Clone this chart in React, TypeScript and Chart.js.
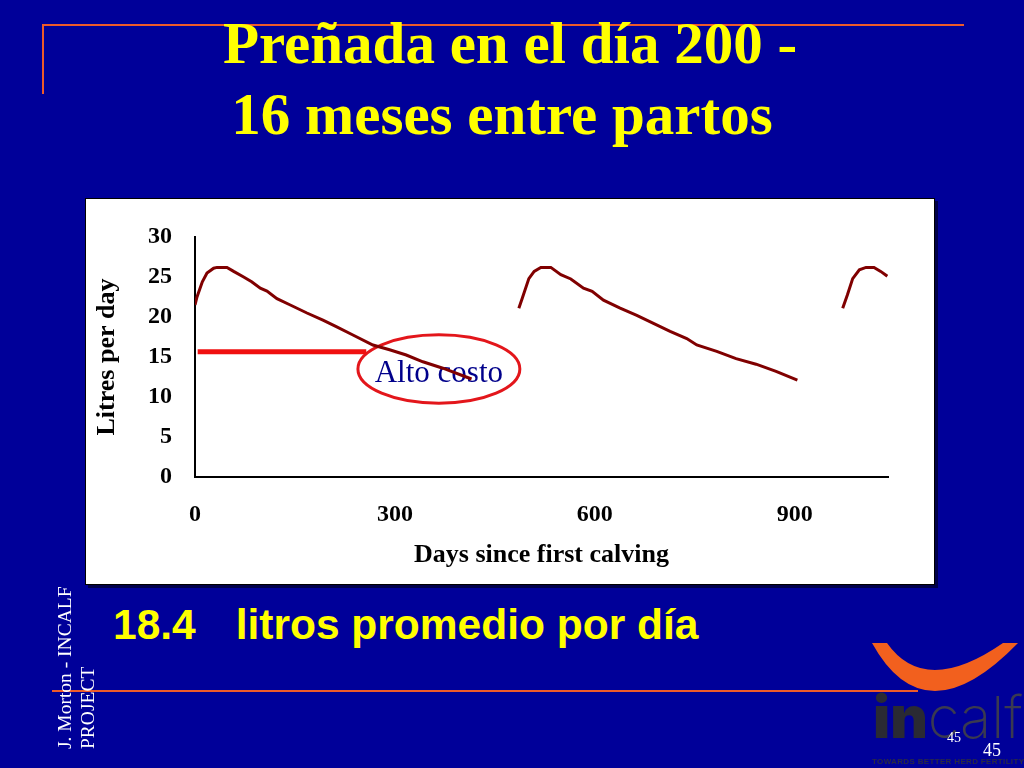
import React, { useEffect, useRef } from "react";
import { Chart, registerables } from "chart.js";

Chart.register(...registerables);

// ---- Data ----
const lact1Days = [0, 3, 11, 18, 28, 33, 48, 58, 73, 85, 98, 108, 123, 143, 168, 192, 212, 237, 267, 292, 317, 342, 372, 407, 415];
const lact1Litres = [21.5, 22.5, 24.4, 25.5, 26.1, 26.2, 26.2, 25.7, 25.0, 24.4, 23.6, 23.25, 22.3, 21.5, 20.5, 19.6, 18.8, 17.75, 16.5, 15.9, 15.25, 14.4, 13.6, 12.5, 12.25];

const lact2Days = [486, 491, 501, 509, 519, 534, 549, 564, 583, 596, 613, 638, 663, 688, 713, 738, 753, 783, 812, 842, 872, 904];
const lact2Litres = [21.1, 22.3, 24.8, 25.7, 26.2, 26.2, 25.3, 24.75, 23.6, 23.2, 22.1, 21.1, 20.2, 19.2, 18.2, 17.3, 16.5, 15.7, 14.8, 14.1, 13.2, 12.1];

const lact3Days = [972, 979, 987, 997, 1007, 1019, 1029, 1039];
const lact3Litres = [21.1, 22.75, 24.8, 25.9, 26.2, 26.2, 25.7, 25.1];

const refLineDays = [4, 257];
const refLineLitres = [15.66, 15.66];

const xTickValues = [0, 300, 600, 900];
const xMax = 1040;
const yTickValues = [0, 5, 10, 15, 20, 25, 30];

const annotationLabel = "Alto costo";
const ellipseCenterDay = 366;
const ellipseCenterLitres = 13.5;
const ellipseRadiusDays = 121.5;
const ellipseRadiusLitres = 4.27;

const xTitle = "Days since first calving";
const yTitle = "Litres per day";

const SERIF = '"Liberation Serif", "Times New Roman", serif';
const SANS = '"Liberation Sans", Arial, sans-serif';

const toPoints = (xs: number[], ys: number[]) => xs.map((x, i) => ({ x, y: ys[i] }));

const altoCostoPlugin = {
  id: "altoCosto",
  beforeDatasetsDraw(chart: any) {
    const { ctx, scales } = chart;
    const x = scales.x;
    const y = scales.y;
    const cx = x.getPixelForValue(ellipseCenterDay);
    const cy = y.getPixelForValue(ellipseCenterLitres);
    const rx = x.getPixelForValue(ellipseCenterDay + ellipseRadiusDays) - cx;
    const ry = y.getPixelForValue(ellipseCenterLitres - ellipseRadiusLitres) - cy;
    ctx.save();
    ctx.fillStyle = "#00008B";
    ctx.font = `31px ${SERIF}`;
    ctx.textAlign = "center";
    ctx.textBaseline = "alphabetic";
    ctx.fillText(annotationLabel, cx, cy + 12.5);
    ctx.beginPath();
    ctx.ellipse(cx, cy, rx, ry, 0, 0, Math.PI * 2);
    ctx.strokeStyle = "#E3161B";
    ctx.lineWidth = 3;
    ctx.stroke();
    ctx.restore();
  },
};

function MilkChart() {
  const ref = useRef<HTMLCanvasElement | null>(null);
  useEffect(() => {
    if (!ref.current) return;
    const curve = {
      borderColor: "#800000",
      borderWidth: 3,
      pointRadius: 0,
      tension: 0,
      fill: false,
    };
    const chart = new Chart(ref.current, {
      type: "line",
      data: {
        datasets: [
          { ...curve, label: "Lactation 1", data: toPoints(lact1Days, lact1Litres) },
          { ...curve, label: "Lactation 2", data: toPoints(lact2Days, lact2Litres) },
          { ...curve, label: "Lactation 3", data: toPoints(lact3Days, lact3Litres) },
          {
            label: "Reference",
            data: toPoints(refLineDays, refLineLitres),
            borderColor: "#F01010",
            borderWidth: 5,
            pointRadius: 0,
            fill: false,
          },
        ],
      },
      options: {
        responsive: false,
        animation: false,
        devicePixelRatio: 1,
        layout: { padding: { left: 0, right: 46, top: 38, bottom: 0 } },
        plugins: {
          legend: { display: false },
          tooltip: { enabled: false },
        },
        scales: {
          x: {
            type: "linear",
            min: 0,
            max: xMax,
            afterBuildTicks: (s: any) => {
              s.ticks = xTickValues.map((v) => ({ value: v }));
            },
            afterFit: (s: any) => {
              s.height = 107;
            },
            grid: { display: false, drawTicks: false },
            border: { display: true, color: "#000", width: 2 },
            ticks: {
              color: "#000",
              font: { family: SERIF, size: 24, weight: "bold" },
              padding: 23,
              maxRotation: 0,
            },
            title: {
              display: true,
              text: xTitle,
              color: "#000",
              font: { family: SERIF, size: 26, weight: "bold" },
              padding: { top: 0, bottom: 13 },
            },
          },
          y: {
            type: "linear",
            min: 0,
            max: 30,
            afterBuildTicks: (s: any) => {
              s.ticks = yTickValues.map((v) => ({ value: v }));
            },
            afterFit: (s: any) => {
              s.width = 109;
            },
            grid: { display: false, drawTicks: false },
            border: { display: true, color: "#000", width: 2 },
            ticks: {
              color: "#000",
              font: { family: SERIF, size: 24, weight: "bold" },
              padding: 23,
            },
            title: {
              display: true,
              text: yTitle,
              color: "#000",
              font: { family: SERIF, size: 26, weight: "bold" },
              padding: { top: 6, bottom: 0 },
            },
          },
        },
      },
      plugins: [altoCostoPlugin],
    } as any);
    return () => chart.destroy();
  }, []);
  return (
    <canvas
      ref={ref}
      width={848}
      height={385}
      style={{ position: "absolute", left: 0, top: 0, width: 848, height: 385 }}
    />
  );
}

export default function App() {
  const orange = "#EE5A2A";
  const titleStyle: React.CSSProperties = {
    position: "absolute",
    width: 1024,
    textAlign: "center",
    color: "#FFFF00",
    fontFamily: SERIF,
    fontWeight: "bold",
    fontSize: 59,
    lineHeight: "59px",
    whiteSpace: "nowrap",
  };
  return (
    <div
      style={{
        position: "fixed",
        left: 0,
        top: 0,
        width: 1024,
        height: 768,
        background: "#000099",
        overflow: "hidden",
        fontFamily: SERIF,
      }}
    >
      {/* decorative orange lines */}
      <div style={{ position: "absolute", left: 42, top: 24, width: 922, height: 2, background: orange }} />
      <div style={{ position: "absolute", left: 42, top: 24, width: 2, height: 70, background: orange }} />
      <div style={{ position: "absolute", left: 52, top: 690, width: 866, height: 2, background: orange }} />

      {/* title */}
      <div style={{ ...titleStyle, left: 510 - 512, top: 14 }}>Preñada en el día 200 -</div>
      <div style={{ ...titleStyle, left: 502 - 512, top: 85 }}>16 meses entre partos</div>

      {/* chart box */}
      <div
        style={{
          position: "absolute",
          left: 85,
          top: 198,
          width: 850,
          height: 387,
          boxSizing: "border-box",
          border: "1px solid #000",
          background: "#fff",
          boxShadow: "3px 3px 0 #00004a",
        }}
      >
        <MilkChart />
      </div>

      {/* summary text */}
      <div
        style={{
          position: "absolute",
          left: 113,
          top: 604,
          color: "#FFFF00",
          fontFamily: SANS,
          fontWeight: "bold",
          fontSize: 42.5,
          lineHeight: "42px",
          whiteSpace: "pre",
        }}
      >
        18.4<span style={{ letterSpacing: 1.5 }}>{"   "}</span>litros promedio por día
      </div>

      {/* vertical footer text */}
      <div
        style={{
          position: "absolute",
          left: 53,
          top: 749,
          width: 200,
          transformOrigin: "top left",
          transform: "rotate(-90deg)",
          color: "#fff",
          fontFamily: SERIF,
          fontSize: 19.5,
          lineHeight: "23px",
          whiteSpace: "nowrap",
        }}
      >
        <div>J. Morton - INCALF</div>
        <div>PROJECT</div>
      </div>

      {/* logo */}
      <svg
        width={1024}
        height={768}
        style={{ position: "absolute", left: 0, top: 0, pointerEvents: "none" }}
      >
        <path d="M 872 643 Q 925 739 1018 643 L 1003 643 Q 925 697 887 643 Z" fill="#F2601E" />
        <text x={873} y={738} fontFamily={'Inter, "DejaVu Sans", sans-serif'} fontSize={58}>
          <tspan fontWeight={900} fill="#2a2a33">in</tspan>
          <tspan fontWeight={200} fill="#3a3a50">calf</tspan>
        </text>
        <text
          x={872}
          y={764}
          fontFamily={SANS}
          fontSize={8}
          fontWeight="bold"
          fill="#2a2a44"
          textLength={152}
          lengthAdjust="spacing"
        >
          TOWARDS BETTER HERD FERTILITY
        </text>
        <text x={947} y={742} fontFamily={SERIF} fontSize={14} fill="#fff">
          45
        </text>
        <text x={983} y={756} fontFamily={SERIF} fontSize={18} fill="#fff">
          45
        </text>
      </svg>
    </div>
  );
}
